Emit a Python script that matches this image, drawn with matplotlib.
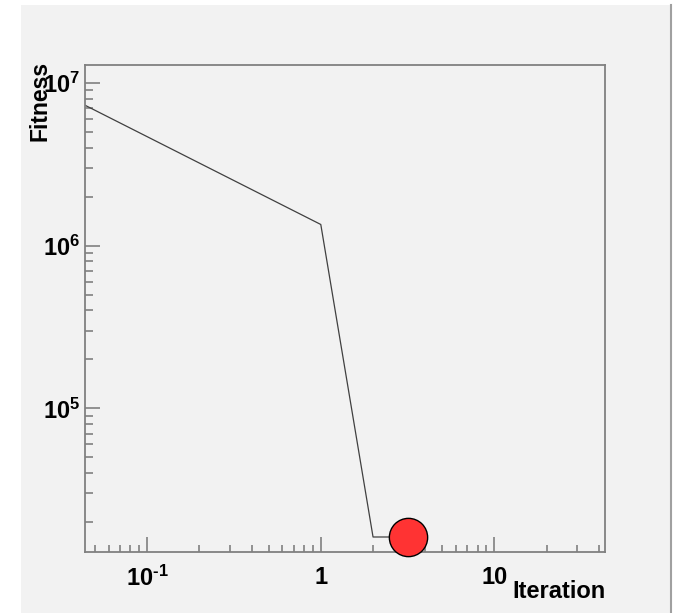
import matplotlib.pyplot as plt
import matplotlib.ticker as mticker
from matplotlib.patches import Rectangle
import numpy as np

plt.rcParams['font.family'] = ['Liberation Sans', 'DejaVu Sans']
plt.rcParams['font.weight'] = 'bold'
plt.rcParams['mathtext.fontset'] = 'custom'
plt.rcParams['mathtext.rm'] = 'Liberation Sans:bold'
plt.rcParams['mathtext.bf'] = 'Liberation Sans:bold'
plt.rcParams['mathtext.it'] = 'Liberation Sans:bold'

# data
iteration = [0.0438, 1, 2, 3.2]
fitness = [7.3e6, 1.35e6, 1.62e4, 1.62e4]
best_x = [3.2]
best_y = [1.62e4]

x_ticks = [0.1, 1, 10]
x_labels = [r'$10^{\text{-}1}$', '1', '10']
y_ticks = [1e5, 1e6, 1e7]
y_labels = [r'$10^{5}$', r'$10^{6}$', r'$10^{7}$']

W, H = 674, 613
fig = plt.figure(figsize=(W / 100, H / 100), dpi=100)
fig.patch.set_facecolor('white')

# ROOT style canvas pad
fig.patches.append(Rectangle((21 / W, 0), (670 - 21) / W, (H - 5) / H,
                             transform=fig.transFigure, facecolor='#f2f2f2',
                             edgecolor='none', zorder=-10))
fig.lines.append(plt.Line2D([670.5 / W, 670.5 / W], [0, (H - 5) / H],
                            transform=fig.transFigure, color='#a0a0a0', lw=1.5,
                            zorder=-9))

ax = fig.add_axes([85 / W, 61 / H, 520 / W, 487 / H])
ax.set_facecolor('#f2f2f2')

ax.plot(iteration, fitness, color='#404040', lw=0.9, zorder=2)
ax.scatter(best_x, best_y, s=760, facecolor='#ff3333', edgecolor='black',
           linewidth=1.0, zorder=3, clip_on=False)

ax.set_xscale('log')
ax.set_yscale('log')
ax.set_xlim(0.0438, 43.4)
ax.set_ylim(1.31e4, 1.29e7)

ax.set_xticks(x_ticks)
ax.set_xticklabels(x_labels)
ax.set_yticks(y_ticks)
ax.set_yticklabels(y_labels)
ax.xaxis.set_minor_locator(mticker.LogLocator(base=10, subs=np.arange(2, 10)))
ax.yaxis.set_minor_locator(mticker.LogLocator(base=10, subs=np.arange(2, 10)))
ax.xaxis.set_minor_formatter(mticker.NullFormatter())
ax.yaxis.set_minor_formatter(mticker.NullFormatter())

ax.tick_params(which='both', direction='in', color='#808080', width=1.2,
               labelsize=17, top=False, right=False)
ax.tick_params(axis='y', which='major', length=11, pad=3.5)
ax.tick_params(axis='y', which='minor', length=5.5)
ax.tick_params(axis='x', which='major', length=11, pad=10)
ax.tick_params(axis='x', which='minor', length=5)

for s in ax.spines.values():
    s.set_color('#808080')
    s.set_linewidth(1.3)

fig.text(40 / W, (H - 61) / H, 'Fitness', rotation=90, ha='center', va='top',
         fontsize=16.5, fontweight='bold')
fig.text(606 / W, (H - 592) / H, 'Iteration', ha='right', va='center',
         fontsize=17, fontweight='bold')

fig.savefig('out.png', dpi=100)
